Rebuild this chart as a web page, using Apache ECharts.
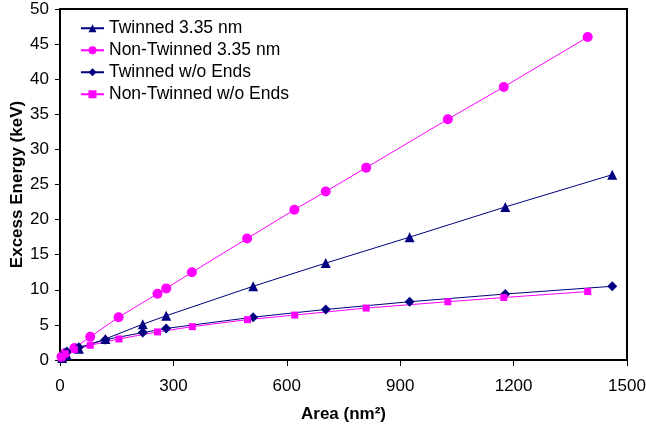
<!DOCTYPE html>
<html>
<head>
<meta charset="utf-8">
<script src="https://cdn.jsdelivr.net/npm/echarts@6/dist/echarts.min.js"></script>
<style>
  html, body { margin: 0; padding: 0; background: #fff; }
  #chart { width: 646px; height: 429px; }
</style>
</head>
<body>
<div id="chart"></div>
<script>
// 孪晶 / 非孪晶 面积 (nm2)
const twinnedArea = [6, 18, 50, 120, 219, 281, 511, 703, 925, 1178, 1461]
const twinned335 = [0.3, 0.7, 1.6, 3.0, 5.1, 6.3, 10.5, 13.8, 17.5, 21.8, 26.4]
const twinnedNoEnds = [0.6, 1.2, 1.8, 2.9, 3.9, 4.5, 6.1, 7.2, 8.3, 9.4, 10.5]

const nonTwinnedArea = [4, 14, 38, 80, 155, 258, 281, 349, 495, 620, 703, 810, 1026, 1174, 1396]
const nonTwinned335 = [0.45, 1.0, 1.7, 3.3, 6.1, 9.45, 10.2, 12.5, 17.3, 21.4, 24.0, 27.4, 34.3, 38.9, 46.0]

const nonTwinnedNoEndsArea = [4, 14, 38, 80, 156, 258, 350, 496, 621, 810, 1026, 1174, 1396]
const nonTwinnedNoEnds = [0.5, 0.9, 1.5, 2.1, 3.0, 4.0, 4.75, 5.75, 6.4, 7.4, 8.3, 8.9, 9.75]

const xTicks = [0, 300, 600, 900, 1200, 1500]
const yTicks = [0, 5, 10, 15, 20, 25, 30, 35, 40, 45, 50]

const NAVY = '#000080', PINK = '#ff00ff', FONT = "'Liberation Sans', Arial, sans-serif"

const pairs = (xs, ys) => xs.map((x, i) => [x, ys[i]])

const chart = echarts.init(document.getElementById('chart'), null, { renderer: 'canvas' })

const makeSeries = (name, color, symbol, size, data) => ({
    name: name,
    type: 'line',
    data: data,
    symbol: symbol,
    symbolSize: size,
    showAllSymbol: true,
    lineStyle: { color: color, width: 1 },
    itemStyle: { color: color },
    emphasis: { disabled: true },
    animation: false
})

chart.setOption({
    backgroundColor: '#fff',
    textStyle: { fontFamily: FONT },
    grid: {
        left: 60, top: 9, right: 19, bottom: 69,
        outerBoundsMode: 'none', containLabel: false,
        show: true, borderColor: '#000', borderWidth: 2, backgroundColor: '#fff'
    },
    legend: {
        orient: 'vertical',
        left: 75, top: 14,
        itemWidth: 23, itemHeight: 10, itemGap: 3.5,
        textStyle: { fontSize: 17.5, color: '#000', fontFamily: FONT, lineHeight: 18.5 },
        data: ['Twinned 3.35 nm', 'Non-Twinned 3.35 nm', 'Twinned w/o Ends', 'Non-Twinned w/o Ends']
    },
    xAxis: {
        type: 'value',
        min: xTicks[0], max: xTicks[xTicks.length - 1], interval: 300,
        name: 'Area (nm²)', nameLocation: 'middle', nameGap: 46, nameMoveOverlap: false,
        nameTextStyle: { fontSize: 17, fontWeight: 'bold', color: '#000', fontFamily: FONT },
        axisLine: { lineStyle: { color: '#000', width: 2 } },
        axisTick: { show: true, length: 6, lineStyle: { color: '#000', width: 1 } },
        axisLabel: { fontSize: 17, color: '#000', margin: 18, fontFamily: FONT, formatter: v => String(v) },
        splitLine: { show: false }
    },
    yAxis: {
        type: 'value',
        min: yTicks[0], max: yTicks[yTicks.length - 1], interval: 5,
        name: 'Excess Energy (keV)', nameLocation: 'middle', nameGap: 34, nameMoveOverlap: false,
        nameTextStyle: { fontSize: 17, fontWeight: 'bold', color: '#000', fontFamily: FONT },
        axisLine: { show: true, lineStyle: { color: '#000', width: 2 } },
        axisTick: { show: true, length: 5, lineStyle: { color: '#000', width: 1 } },
        axisLabel: { fontSize: 17, color: '#000', margin: 11, fontFamily: FONT, formatter: v => String(v) },
        splitLine: { show: false }
    },
    series: [
        makeSeries('Twinned 3.35 nm', NAVY, 'triangle', 10, pairs(twinnedArea, twinned335)),
        makeSeries('Non-Twinned 3.35 nm', PINK, 'circle', 10, pairs(nonTwinnedArea, nonTwinned335)),
        makeSeries('Twinned w/o Ends', NAVY, 'diamond', 10, pairs(twinnedArea, twinnedNoEnds)),
        makeSeries('Non-Twinned w/o Ends', PINK, 'rect', 7, pairs(nonTwinnedNoEndsArea, nonTwinnedNoEnds))
    ]
})
</script>
</body>
</html>
